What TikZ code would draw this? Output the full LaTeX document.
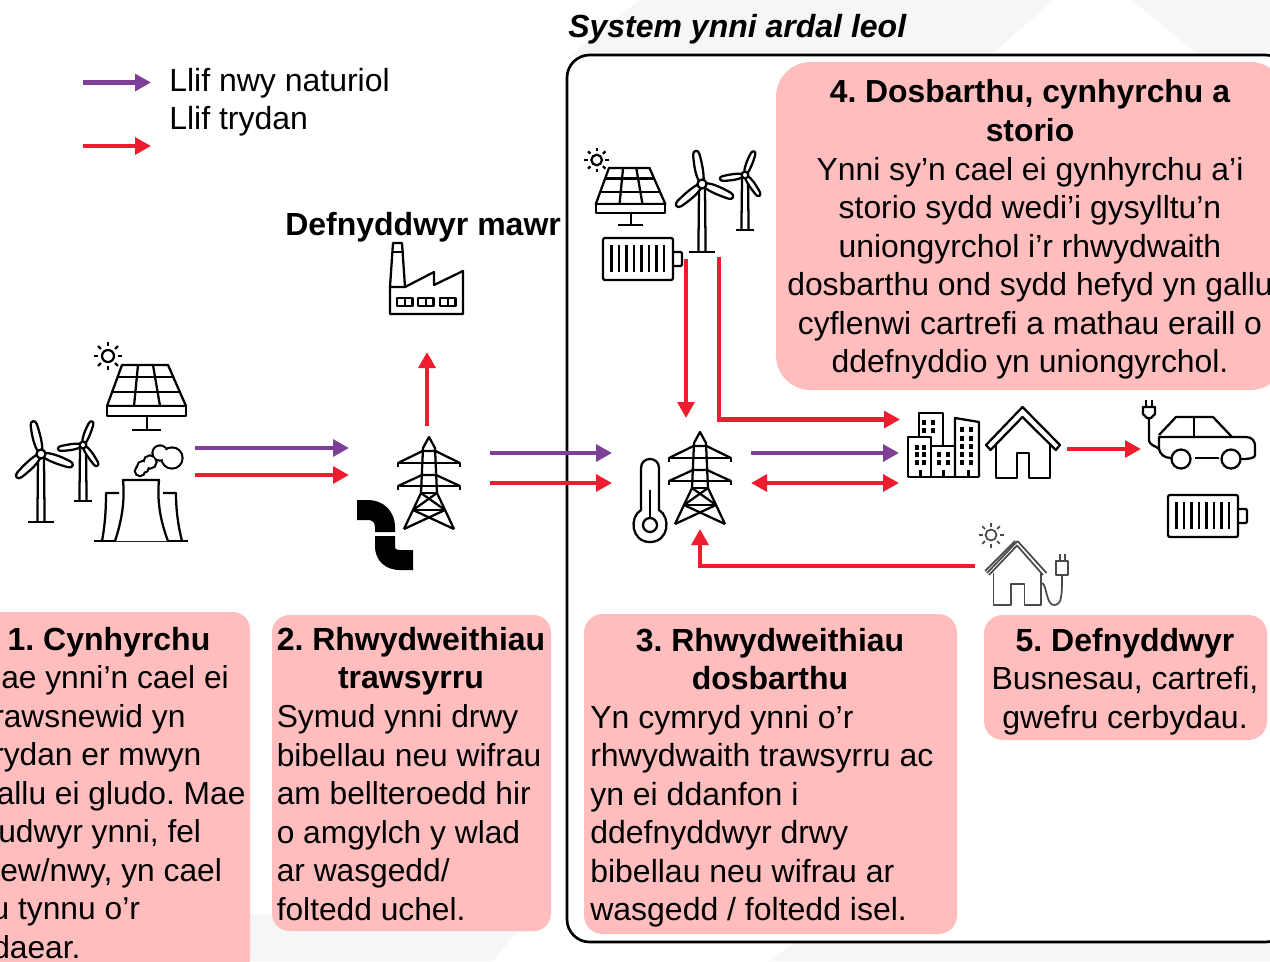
\documentclass[tikz,border=0pt]{standalone}
\usepackage{fontspec}
\setmainfont{Liberation Sans}
\usetikzlibrary{arrows.meta}
\AtBeginDocument{\frenchspacing}
\definecolor{panelred}{HTML}{FFBDBD}
\definecolor{bggrey}{HTML}{F5F6F6}
\definecolor{flowgas}{HTML}{7D3F98}
\definecolor{flowelec}{HTML}{ED1C2E}
\definecolor{darkicon}{HTML}{4A4A4A}
\tikzset{
  ico/.style={line width=1.7pt,black,line join=round},
  icothin/.style={line width=1.3pt,darkicon,line join=round},
  panel/.style={fill=panelred,draw=none,inner sep=0pt,rectangle},
  flowbase/.style={line width=3.2pt,-{Triangle[length=12pt,width=12.5pt]}},
  gasflow/.style={flowbase,flowgas},
  elecflow/.style={flowbase,flowelec},
  elecboth/.style={line width=3.2pt,flowelec,{Triangle[length=12pt,width=12.5pt]}-{Triangle[length=12pt,width=12.5pt]}},
  txt/.style={inner sep=0pt,font=\fontsize{24}{28.9}\selectfont},
  txtnarrow/.style={inner sep=0pt,font=\fontsize{23.8}{28.9}\selectfont},
}
\newcommand{\topfix}{\rule{0pt}{24pt}}
\newcommand{\panelbox}[6]{\node[panel,rounded corners=#6pt,minimum width={(#4-#2)*0.75pt},minimum height={(#5-#3)*0.75pt}] (#1) at ({(#2+#4)/2},{(#3+#5)/2}) {};}
\newcommand{\mkturbine}[6]{%
  \draw[ico] ({#1-3},{#2+4}) -- ({#1-3.6},#5);
  \draw[ico] ({#1+3},{#2+4}) -- ({#1+3.6},#5);
  \draw[ico] ({#1-#6},#5) -- ({#1+#6},#5);
  \begin{scope}[shift={(#1,#2)},scale=#3,rotate=#4]
    \foreach \a in {104,-20,224}{
      \draw[ico,fill=white,rotate=\a] (3,-2.2) .. controls (9,-4.5) and (18,-4.6) .. (30,-3.2) .. controls (35,-2.8) and (35,3) .. (30,3.2) .. controls (20,4) and (10,4) .. (3,2.2) -- cycle;
    }
    \draw[ico,fill=white] (0,0) circle[radius=4.5];
  \end{scope}}
\newcommand{\mkpanel}[3]{%
  \begin{scope}[shift={(#1,#2)},scale=#3]
    \draw[ico,fill=white] (-25,-41) -- (21,-41) -- (39,0) -- (-40,0) -- cycle;
    \draw[ico,fill=white] (-40,0) rectangle (39,10);
    \draw[ico] (-29.4,-29) -- (26.2,-29);
    \draw[ico] (-34.9,-14) -- (32.9,-14);
    \draw[ico] (-9,-41) -- (-13,0);
    \draw[ico] (6,-41) -- (13,0);
    \draw[ico] (0,10) -- (0,24);
    \draw[ico] (-15,24) -- (14,24);
    \draw[ico] (-39,-50) circle[radius=6];
    \foreach \a in {0,45,...,315}{
      \draw[ico] ({-39+10*cos(\a)},{-50+10*sin(\a)}) -- ({-39+14*cos(\a)},{-50+14*sin(\a)});
    }
  \end{scope}}
\newcommand{\mkpylon}[2]{%
  \begin{scope}[shift={(#1,#2)}]
    \draw[ico] (-25,92) -- (-8,56) -- (-6,11) -- (0,0) -- (6,11) -- (8,56) -- (25,92);
    \draw[ico] (-31,30) -- (-31,26) -- (31,26) -- (31,30);
    \draw[ico] (-31,53) -- (-31,49) -- (31,49) -- (31,53);
    \draw[ico] (-31,26) -- (-6.5,14) -- (6.5,14) -- (31,26);
    \draw[ico] (-31,49) -- (-7,38) -- (7,38) -- (31,49);
    \draw[ico] (-8,56) -- (8,56);
    \draw[ico] (-8,56) -- (16,73) -- (-25,92);
    \draw[ico] (8,56) -- (-16,73) -- (25,92);
    \draw[ico] (-16,73) -- (16,73);
  \end{scope}}
\newcommand{\mkbattery}[2]{%
  \begin{scope}[shift={(#1,#2)}]
    \draw[ico,rounded corners=1.5pt] (0,0) rectangle (70,42);
    \draw[ico,rounded corners=1pt] (70,14) -- (79,14) -- (79,28) -- (70,28);
    \foreach \i in {0,...,7}{
      \draw[ico] ({8.5+7.5*\i},7) -- ({8.5+7.5*\i},34);
    }
  \end{scope}}
\newcommand{\win}[2]{\fill[black] ({#1-2},{#2-2.5}) rectangle ({#1+2},{#2+2.5});}
\begin{document}
\begin{tikzpicture}[x=0.75pt,y=-0.75pt]
\useasboundingbox (0,0) rectangle (1270,961);
\clip (0,0) rectangle (1270,961);
% background
\fill[white] (0,0) rectangle (1270,961);
\fill[bggrey] (640,0) -- (1053,0) -- (990,56) -- (570,56) -- cycle;
\fill[bggrey] (1132,0) -- (1270,0) -- (1270,56) -- (1200,56) -- cycle;
\fill[bggrey] (0,915) -- (530,915) -- (493,961) -- (0,961) -- cycle;
\fill[bggrey] (795,942) -- (1270,942) -- (1270,961) -- (770,961) -- cycle;
% system frame
\node[draw=black,fill=white,line width=2pt,rounded corners=17pt,inner sep=0pt,rectangle,minimum width={(1288-567)*0.75pt},minimum height={(942-55)*0.75pt}] (sysframe) at ({(567+1288)/2},{(55+942)/2}) {};
% panels
\panelbox{pone}{-40}{612}{250}{976}{13}
\panelbox{ptwo}{272}{615}{551}{931}{13}
\panelbox{pthree}{584}{614}{957}{934}{14}
\panelbox{pfour}{776}{62}{1285}{390}{26}
\panelbox{pfive}{984}{615}{1267}{740}{14}
% titles and labels
\node[txt,anchor=base west,font=\fontsize{24}{28.9}\selectfont\bfseries\itshape] (systitle) at (568,37) {System ynni ardal leol};
\node[txt,anchor=base west] (leggas) at (169,91) {Llif nwy naturiol};
\node[txt,anchor=base west] (legelec) at (169,129) {Llif trydan};
\node[txt,anchor=base west,font=\fontsize{24}{28.9}\selectfont\bfseries] (large) at (285,235) {Defnyddwyr mawr};
% panel text
\node[txt,anchor=base,font=\fontsize{24}{28.9}\selectfont\bfseries] (tone) at (109,650) {1. Cynhyrchu};
\node[txtnarrow,anchor=north west,align=left] (bone) at (0,656.5) {\topfix\kern0.75pt ae ynni’n cael ei\\\kern-5.25pt rawsnewid yn\\\kern-5.25pt rydan er mwyn\\\kern-2.6pt allu ei gludo. Mae\\\kern-1.5pt udwyr ynni, fel\\ew/nwy, yn cael\\\kern-6.4pt u tynnu o’r\\\kern-6pt daear.};
\node[txt,anchor=north,align=center,font=\fontsize{24}{28.9}\selectfont\bfseries] (ttwo) at (411,618) {\topfix 2. Rhwydweithiau\\trawsyrru};
\node[txtnarrow,anchor=north west,align=left] (btwo) at (276.5,695.5) {\topfix Symud ynni drwy\\bibellau neu wifrau\\am bellteroedd hir\\o amgylch y wlad\\ar wasgedd/\\foltedd uchel.};
\node[txt,anchor=north,align=center,font=\fontsize{24}{28.9}\selectfont\bfseries] (tthree) at (770,619) {\topfix 3. Rhwydweithiau\\dosbarthu};
\node[txt,anchor=north west,align=left] (bthree) at (590,696) {\topfix Yn cymryd ynni o’r\\rhwydwaith trawsyrru ac\\yn ei ddanfon i\\ddefnyddwyr drwy\\bibellau neu wifrau ar\\wasgedd / foltedd isel.};
\node[txt,anchor=north,align=center,font=\fontsize{23.9}{28.9}\selectfont] (bfour) at (1030,70.7) {\topfix\textbf{4. Dosbarthu, cynhyrchu a}\\\textbf{storio}\\Ynni sy’n cael ei gynhyrchu a’i\\storio sydd wedi’i gysylltu’n\\uniongyrchol i’r rhwydwaith\\dosbarthu ond sydd hefyd yn gallu\\cyflenwi cartrefi a mathau eraill o\\ddefnyddio yn uniongyrchol.};
\node[txt,anchor=north,align=center] (bfive) at (1125,619) {\topfix\textbf{5. Defnyddwyr}\\Busnesau, cartrefi,\\gwefru cerbydau.};
% generation icons
\mkturbine{83}{445}{0.75}{-35}{501}{9}
\mkturbine{41}{454}{1}{0}{522}{13}
\mkpanel{147}{406}{1}
\draw[ico] (94,541) -- (188,541);
\draw[ico] (102,541) .. controls (105,525) and (106,510) .. (106,493) -- (119,493);
\draw[ico] (182,541) .. controls (178,525) and (176,510) .. (176,493) -- (163,493);
\draw[ico,fill=white] (115,541) .. controls (122,520) and (125,500) .. (123,480) -- (159,480) .. controls (157,500) and (160,520) .. (168,541);
\foreach \cx/\cy/\r in {172/458/9.5,160/453/6.5,150/462/5.5,143/467/5,140/471/4}{\draw[black,line width=3.2pt] (\cx,\cy) circle[radius=\r];}
\foreach \cx/\cy/\r in {172/458/9.5,160/453/6.5,150/462/5.5,143/467/5,140/471/4}{\fill[white] (\cx,\cy) circle[radius=\r];}
% transmission icons
\mkpylon{429}{437}
\draw[black,line width=15pt] (357,510) -- (368,510) .. controls (378,510) and (385,517) .. (385,527) -- (385,532);
\draw[black,line width=15pt] (385,536) -- (385,546) .. controls (385,555) and (391,560) .. (400,560) -- (413,560);
% factory
\draw[ico] (390,287) -- (393,243) -- (402,243) -- (405,287);
\draw[ico] (391.5,252) -- (403.5,252);
\draw[ico] (390,287) -- (390,314) -- (463,314) -- (463,271) -- (434,285) -- (434,272) -- (405,287) -- cycle;
\foreach \wx in {397,418,440}{
  \draw[ico] (\wx,298) rectangle ({\wx+15.5},306);
  \draw[ico] ({\wx+7.7},298) -- ({\wx+7.7},306);
}
% local generation
\mkpanel{631}{204}{0.88}
\mkbattery{603}{238}
\mkturbine{745}{175}{0.75}{-35}{230}{9}
\mkturbine{702}{184}{1}{-3}{252}{13}
% distribution
\mkpylon{700}{432}
\draw[ico] (641,510) -- (641,468) .. controls (641,456) and (659,456) .. (659,468) -- (659,510) .. controls (671,517) and (669,542) .. (650,542) .. controls (631,542) and (629,517) .. (641,510) -- cycle;
\draw[ico] (650,525) circle[radius=7];
\draw[ico] (650,490) -- (650,518);
% buildings
\draw[ico] (919,437) -- (919,413) -- (943,413) -- (943,446);
\draw[ico] (908,477) -- (908,437) -- (931,437) -- (931,477);
\draw[ico] (931,446) -- (955,446);
\draw[ico] (955,477) -- (955,418) -- (979,422) -- (979,477);
\draw[ico] (908,477) -- (979,477);
\foreach \wx/\wy in {924/422,933/422,924/430,933/430,917/447,924/447,917/454,924/454,917/462,924/462,939/454,948/454,939/462,948/462,962/429,971/429,962/438,971/438,962/446,971/446,962/454,971/454,962/462,971/462}{\win{\wx}{\wy}}
\foreach \wx in {920,943,968}{\fill[black] ({\wx-1.5},470) rectangle ({\wx+1.5},477);}
% house
\draw[ico] (1022.5,407) -- (1060,445) -- (1055.7,450) -- (1022.5,417) -- (990.5,450) -- (986,445) -- cycle;
\draw[ico] (996,444) -- (996,478) -- (1017,478) -- (1017,453) -- (1029,453) -- (1029,478) -- (1050,478) -- (1050,444);
% car
\draw[ico] (1146,400) -- (1146,407);
\draw[ico] (1152,400) -- (1152,407);
\draw[ico] (1143,407) -- (1155,407) -- (1155,414) -- (1151,418) -- (1147,418) -- (1143,414) -- cycle;
\draw[ico] (1149,418) -- (1149,439) .. controls (1149,446) and (1155,445) .. (1159,449) .. controls (1160,454) and (1164,458) .. (1171,458);
\draw[ico] (1159,449) -- (1159,437) -- (1246,437) .. controls (1252,437) and (1255,441) .. (1255,446) -- (1255,455) .. controls (1255,458) and (1250,459) .. (1241,459);
\draw[ico] (1159,435) -- (1176,417) -- (1213,417) -- (1232,437);
\draw[ico] (1194,417) -- (1194,437);
\draw[ico] (1195,458) -- (1219,458);
\draw[ico] (1181,459) circle[radius=9.5];
\draw[ico] (1231,459) circle[radius=9.5];
\mkbattery{1168}{495}
% solar house
\begin{scope}
\draw[icothin] (991,535) circle[radius=5.5];
\foreach \a in {0,45,...,315}{\draw[icothin] ({991+8.5*cos(\a)},{535+8.5*sin(\a)}) -- ({991+12.5*cos(\a)},{535+12.5*sin(\a)});}
\draw[icothin] (1017.5,541) -- (987,573);
\draw[icothin] (1015,541) -- (985,571);
\draw[icothin] (1017.5,545) -- (989,575);
\draw[icothin] (1017.5,541) -- (1046.5,573);
\draw[icothin] (1017.5,546) -- (1043,575);
\draw[icothin] (993.5,573) -- (993.5,605) -- (1011,605) -- (1011,584) -- (1024.5,584) -- (1024.5,605) -- (1041,605) -- (1041,573);
\draw[icothin] (1042,583) .. controls (1047,585) and (1046,605) .. (1054,605) .. controls (1062,605) and (1062,595) .. (1062,575);
\draw[icothin] (1056,561) rectangle (1068,575);
\draw[icothin] (1060,554) -- (1060,561);
\draw[icothin] (1065,554) -- (1065,561);
\end{scope}
% connector end points
\coordinate (legGasA) at (83,82.5); \coordinate (legGasB) at (151,82.5);
\coordinate (legElA) at (83,146); \coordinate (legElB) at (151,146);
\coordinate (genGas) at (195,448); \coordinate (trGasIn) at (349,448);
\coordinate (genEl) at (195,475); \coordinate (trElIn) at (349,475);
\coordinate (trUp) at (427,426); \coordinate (bigIn) at (427,352);
\coordinate (trGasOut) at (490,453); \coordinate (diGasIn) at (612,453);
\coordinate (trElOut) at (490,483); \coordinate (diElIn) at (612,483);
\coordinate (locDownA) at (686,259); \coordinate (diTop) at (686,418);
\coordinate (locOut) at (719,257); \coordinate (cityTop) at (900,419.5);
\coordinate (diGasOut) at (751,453); \coordinate (cityGas) at (899,453);
\coordinate (diElBi) at (751,483); \coordinate (cityEl) at (899,483);
\coordinate (homeOut) at (1067,449); \coordinate (carIn) at (1141,449);
\coordinate (prosOut) at (975,566); \coordinate (diBottom) at (700,529);
% connectors
\draw[gasflow] (legGasA) -- (legGasB);
\draw[elecflow] (legElA) -- (legElB);
\draw[gasflow] (genGas) -- (trGasIn);
\draw[elecflow] (genEl) -- (trElIn);
\draw[elecflow] (trUp) -- (bigIn);
\draw[gasflow] (trGasOut) -- (diGasIn);
\draw[elecflow] (trElOut) -- (diElIn);
\draw[elecflow] (locDownA) -- (diTop);
\draw[elecflow] (locOut) |- (cityTop);
\draw[gasflow] (diGasOut) -- (cityGas);
\draw[elecboth] (diElBi) -- (cityEl);
\draw[elecflow] (homeOut) -- (carIn);
\draw[elecflow] (prosOut) -| (diBottom);
\end{tikzpicture}
\end{document}
